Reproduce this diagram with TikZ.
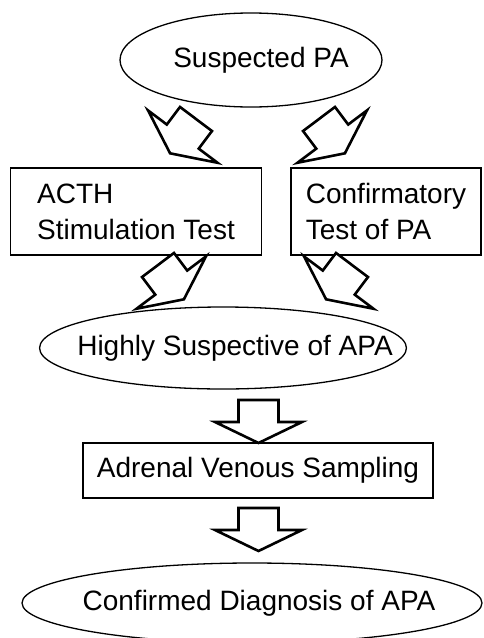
\documentclass[tikz,border=0pt]{standalone}
\usepackage{fontspec}
\setmainfont{Liberation Sans}
\usetikzlibrary{shapes.geometric}

\tikzstyle{stage} = [ellipse,draw,line width=1.3pt,inner sep=-40pt,font=\fontsize{28}{36}\selectfont]
\tikzstyle{test} = [rectangle,draw,line width=1.3pt,inner sep=0pt,align=left,font=\fontsize{28}{36}\selectfont]
\tikzstyle{block arrow} = [draw,line width=2.6pt,line join=miter,fill=white]
\tikzset{nudge/.style={execute at begin node={\hspace*{#1}}}}

\begin{document}
\begin{tikzpicture}[x=1pt,y=-1pt]
      \useasboundingbox (0,0) rectangle (483,638);
      %nodes
      \node[stage, nudge=20pt, minimum width=262pt, minimum height=94pt] (suspected) at (251,60) {Suspected PA};
      \node[test, minimum width=251pt, minimum height=87pt] (acth) at (136,211.5) {ACTH\\Stimulation Test};
      \node[test, minimum width=190pt, minimum height=87pt] (confirm) at (386,211.5) {Confirmatory\\Test of PA};
      \node[stage, nudge=24pt, minimum width=360pt, minimum height=82pt] (highly) at (223,348) {Highly Suspective of APA};
      \node[test, minimum width=350pt, minimum height=55pt] (avs) at (258,470.5) {Adrenal Venous Sampling};
      \node[stage, nudge=14pt, minimum width=460pt, minimum height=80pt] (diagnosis) at (252,603) {Confirmed Diagnosis of APA};
      %arrows
      \foreach \name/\x/\y/\angle in {
        toacth/196/119/-37, toconfirm/319/119/37,
        fromacth/158/265/37, fromconfirm/352/265/-37,
        toavs/258.5/400/0, todiagnosis/258.5/508/0}
      {
        \coordinate (\name) at (\x,\y);
        \draw[block arrow, shift={(\name)}, rotate=\angle]
          (-20,0) -- (20,0) -- (20,22) -- (43.5,22) -- (0,43) -- (-43.5,22) -- (-20,22) -- cycle;
      };
\end{tikzpicture}
\end{document}
